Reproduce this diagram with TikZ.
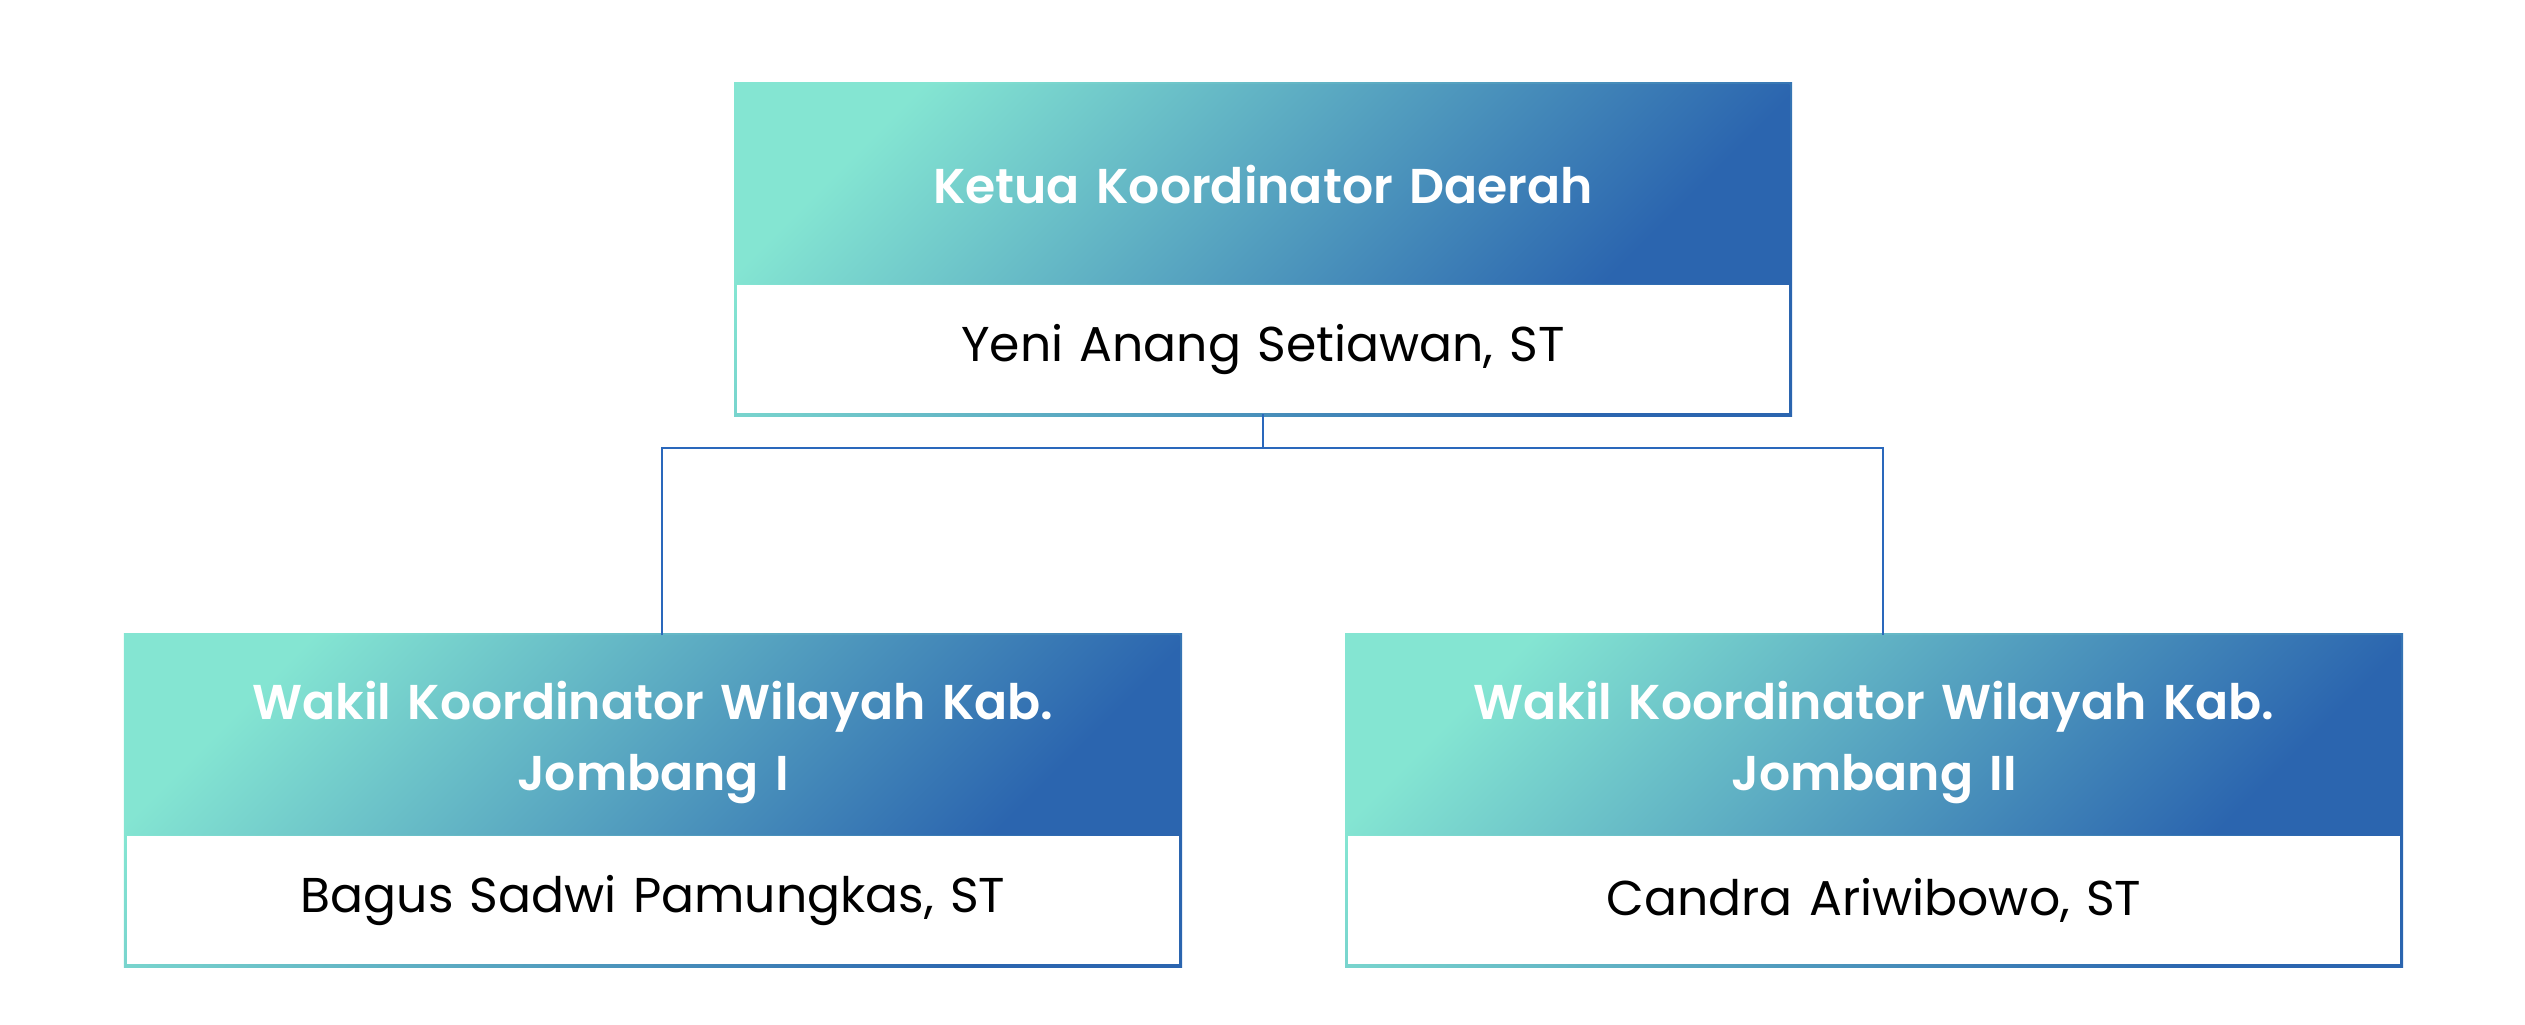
\documentclass[tikz,border=0pt]{standalone}
\usepackage{fontspec}
\setmainfont{Poppins}[BoldFont={Poppins SemiBold}]
\usetikzlibrary{positioning,backgrounds}
\definecolor{mint}{HTML}{84E5D2}
\definecolor{deepblue}{HTML}{2B65AF}
\definecolor{linkblue}{HTML}{2A68BC}
\pgfdeclarehorizontalshading{hdrgrad}{100bp}{color(0bp)=(mint); color(25bp)=(mint);
 color(75bp)=(deepblue); color(100bp)=(deepblue)}
\tikzset{
 head/.style={rectangle,inner sep=0pt,minimum width=10.52cm,minimum height=1.99cm,
  text width=10.3cm,align=center,shading=hdrgrad,shading angle=-45,
  text=white,font=\bfseries\fontsize{13.9}{20.2}\selectfont},
 twoline/.style={text depth=19.8pt},
 personbox/.style={rectangle,inner sep=0pt,minimum width=10.52cm,minimum height=1.28cm,
  text width=10.3cm,align=center,fill=white,font=\fontsize{13.9}{18}\selectfont},
 rim/.style={shading=hdrgrad,shading angle=-45},
 orgline/.style={line width=0.8pt,linkblue}
}

\begin{document}
\begin{tikzpicture}[x=0.01cm,y=-0.01cm]
\useasboundingbox (0,0) rectangle (2525,1024);
% ketua
\node[head,anchor=north] (ketua) at (1263,84) {Ketua Koordinator Daerah};
\node[personbox,below=0pt of ketua] (ketuaname) {Yeni Anang Setiawan, ST};
% wakil
\node[head,twoline,anchor=north] (wakil1) at (653,635) {Wakil Koordinator Wilayah Kab.\\ Jombang I};
\node[personbox,below=0pt of wakil1] (wakil1name) {Bagus Sadwi Pamungkas, ST};
\node[head,twoline,anchor=north] (wakil2) at (1874,635) {Wakil Koordinator Wilayah Kab.\\ Jombang II};
\node[personbox,below=0pt of wakil2] (wakil2name) {Candra Ariwibowo, ST};
\begin{scope}[on background layer]
 \shade[rim] ([shift={(-2,-2)}]ketua.north west) rectangle ([shift={(2,2)}]ketuaname.south east);
 \shade[rim] ([shift={(-2,-2)}]wakil1.north west) rectangle ([shift={(2,2)}]wakil1name.south east);
 \shade[rim] ([shift={(-2,-2)}]wakil2.north west) rectangle ([shift={(2,2)}]wakil2name.south east);
\end{scope}
% garis
\coordinate (fork) at (1263,448);
\draw[orgline] (ketuaname.south) -- (fork);
\draw[orgline] ([xshift=0.09cm]wakil1.north) |- (fork) -| ([xshift=0.09cm]wakil2.north);
\end{tikzpicture}
\end{document}
